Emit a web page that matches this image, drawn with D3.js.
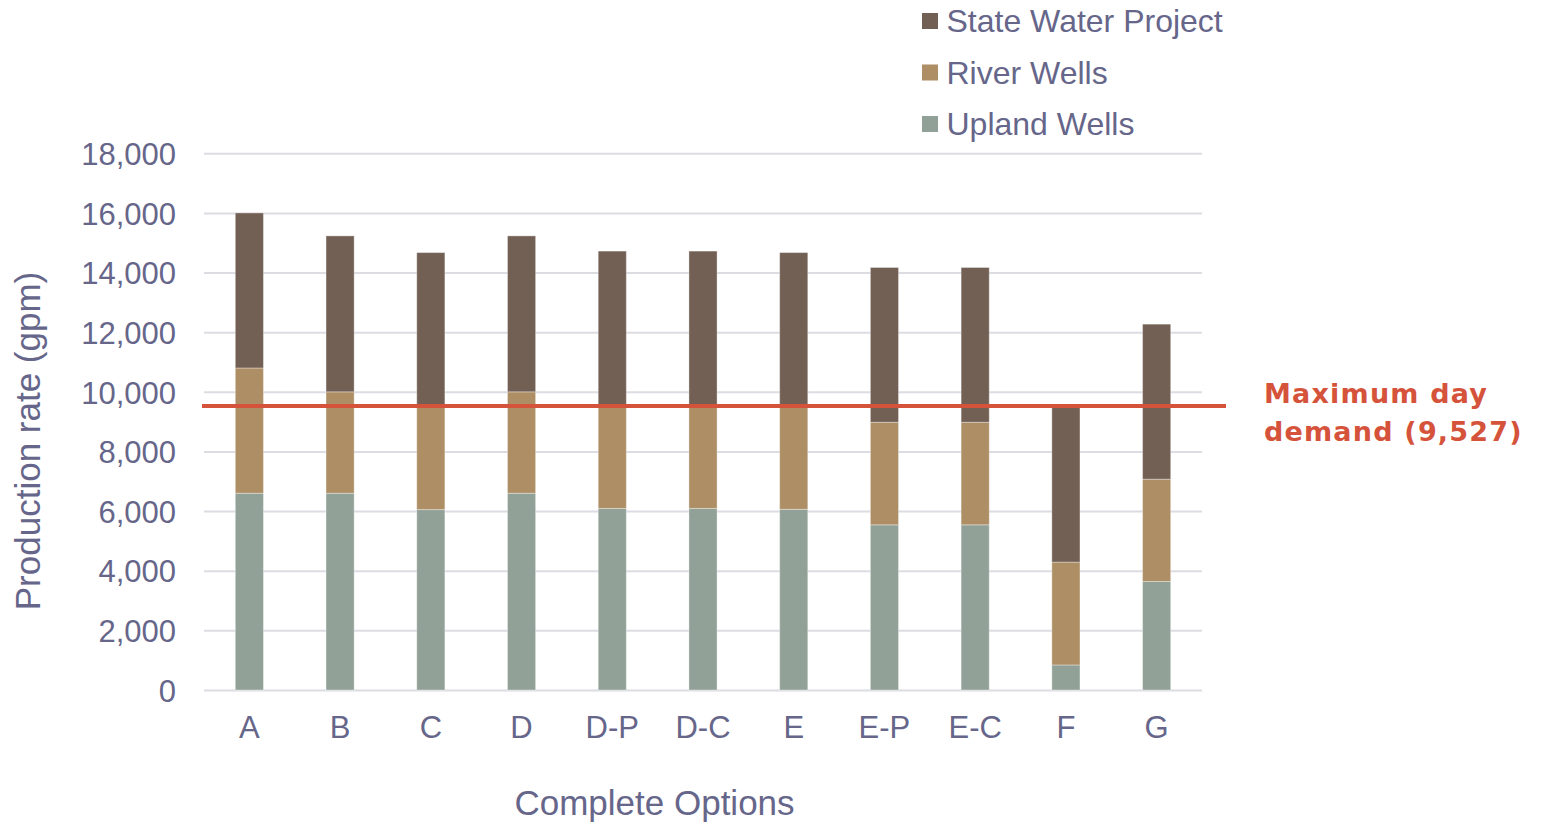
<!DOCTYPE html>
<html>
<head>
<meta charset="utf-8">
<script src="https://cdn.jsdelivr.net/npm/d3@7"></script>
<style>
  html, body { margin: 0; padding: 0; background: #fff; }
  svg { display: block; }
</style>
</head>
<body>
<svg id="chart" width="1542" height="823"></svg>
<script>
// Production capacity per option, gpm
const categories = ["A", "B", "C", "D", "D-P", "D-C", "E", "E-P", "E-C", "F", "G"];
const uplandWells = [6600, 6600, 6050, 6600, 6090, 6090, 6060, 5540, 5540, 840, 3640];
const riverWells = [4200, 3400, 3430, 3400, 3440, 3440, 3430, 3440, 3440, 3450, 3430];
const stateWaterProject = [5200, 5230, 5190, 5230, 5190, 5190, 5180, 5190, 5190, 5200, 5200];
const seriesNames = ["Upland Wells", "River Wells", "State Water Project"];
const yTicks = [0, 2000, 4000, 6000, 8000, 10000, 12000, 14000, 16000, 18000];
const maxDayDemand = 9527;

const colors = {
  "Upland Wells": "#92a197",
  "River Wells": "#ad8e65",
  "State Water Project": "#726055"
};
const textColor = "#66668a";
const fontFamily = "'Liberation Sans', Arial, sans-serif";

const svg = d3.select("#chart");
const plot = { left: 204, right: 1202, top: 153.3, bottom: 690 };

const rows = categories.map((c, i) => ({
  category: c,
  "Upland Wells": uplandWells[i],
  "River Wells": riverWells[i],
  "State Water Project": stateWaterProject[i]
}));

const x = d3.scaleBand()
  .domain(categories)
  .range([plot.left, plot.right])
  .paddingInner(0.69)
  .paddingOuter(0.345);

const y = d3.scaleLinear()
  .domain([0, 18000])
  .range([plot.bottom, plot.top]);

// Gridlines and y tick labels
const yAxis = svg.append("g")
  .attr("transform", `translate(${plot.left},0)`)
  .call(d3.axisLeft(y)
    .tickValues(yTicks)
    .tickSize(-(plot.right - plot.left))
    .tickPadding(28)
    .tickFormat(d3.format(",")));
yAxis.select(".domain").remove();
yAxis.selectAll(".tick line")
  .attr("stroke", "#dcdce3")
  .attr("stroke-width", 2);
yAxis.selectAll(".tick text")
  .attr("fill", textColor)
  .attr("font-family", fontFamily)
  .attr("font-size", 31)
  .attr("dy", "0.36em");

// Stacked bars
const stack = d3.stack().keys(seriesNames);
const layers = stack(rows);

svg.append("g")
  .selectAll("g")
  .data(layers)
  .join("g")
  .attr("fill", d => colors[d.key])
  .selectAll("rect")
  .data(d => d)
  .join("rect")
  .attr("x", d => x(d.data.category))
  .attr("width", x.bandwidth())
  .attr("y", d => y(d[1]))
  .attr("height", d => y(d[0]) - y(d[1]))
  .attr("stroke", "#ffffff")
  .attr("stroke-opacity", 0.35)
  .attr("stroke-width", 1);

// X axis labels
const xAxis = svg.append("g")
  .attr("transform", `translate(0,${plot.bottom})`)
  .call(d3.axisBottom(x).tickSize(0).tickPadding(0));
xAxis.select(".domain").remove();
xAxis.selectAll(".tick text")
  .attr("fill", textColor)
  .attr("font-family", fontFamily)
  .attr("font-size", 31)
  .attr("dy", 0)
  .attr("y", 47.5);

// Maximum day demand line
svg.append("line")
  .attr("x1", plot.left - 2)
  .attr("x2", 1226)
  .attr("y1", y(maxDayDemand))
  .attr("y2", y(maxDayDemand))
  .attr("stroke", "#d5533b")
  .attr("stroke-width", 4);

const demandLabel = svg.append("text")
  .attr("fill", "#d5533b")
  .attr("font-family", "'DejaVu Sans', Verdana, sans-serif")
  .attr("font-weight", "bold")
  .attr("font-size", 27)
  .attr("letter-spacing", 1.2);
demandLabel.append("tspan").attr("x", 1264).attr("y", 403).text("Maximum day");
demandLabel.append("tspan").attr("x", 1264).attr("y", 441)
  .text(`demand (${d3.format(",")(maxDayDemand)})`);

// Axis titles
svg.append("text")
  .attr("transform", "translate(40,441) rotate(-90)")
  .attr("text-anchor", "middle")
  .attr("fill", textColor)
  .attr("font-family", fontFamily)
  .attr("font-size", 35)
  .text("Production rate (gpm)");

svg.append("text")
  .attr("x", 654.5)
  .attr("y", 815)
  .attr("text-anchor", "middle")
  .attr("fill", textColor)
  .attr("font-family", fontFamily)
  .attr("font-size", 35)
  .text("Complete Options");

// Legend (top series first)
const legendItems = seriesNames.slice().reverse();
const legend = svg.append("g")
  .selectAll("g")
  .data(legendItems)
  .join("g")
  .attr("transform", (d, i) => `translate(922,${32 + i * 51.5})`);
legend.append("rect")
  .attr("x", 0)
  .attr("y", -19)
  .attr("width", 16)
  .attr("height", 16)
  .attr("fill", d => colors[d]);
legend.append("text")
  .attr("x", 24.5)
  .attr("y", 0)
  .attr("fill", textColor)
  .attr("font-family", fontFamily)
  .attr("font-size", 32)
  .text(d => d);
</script>
</body>
</html>
